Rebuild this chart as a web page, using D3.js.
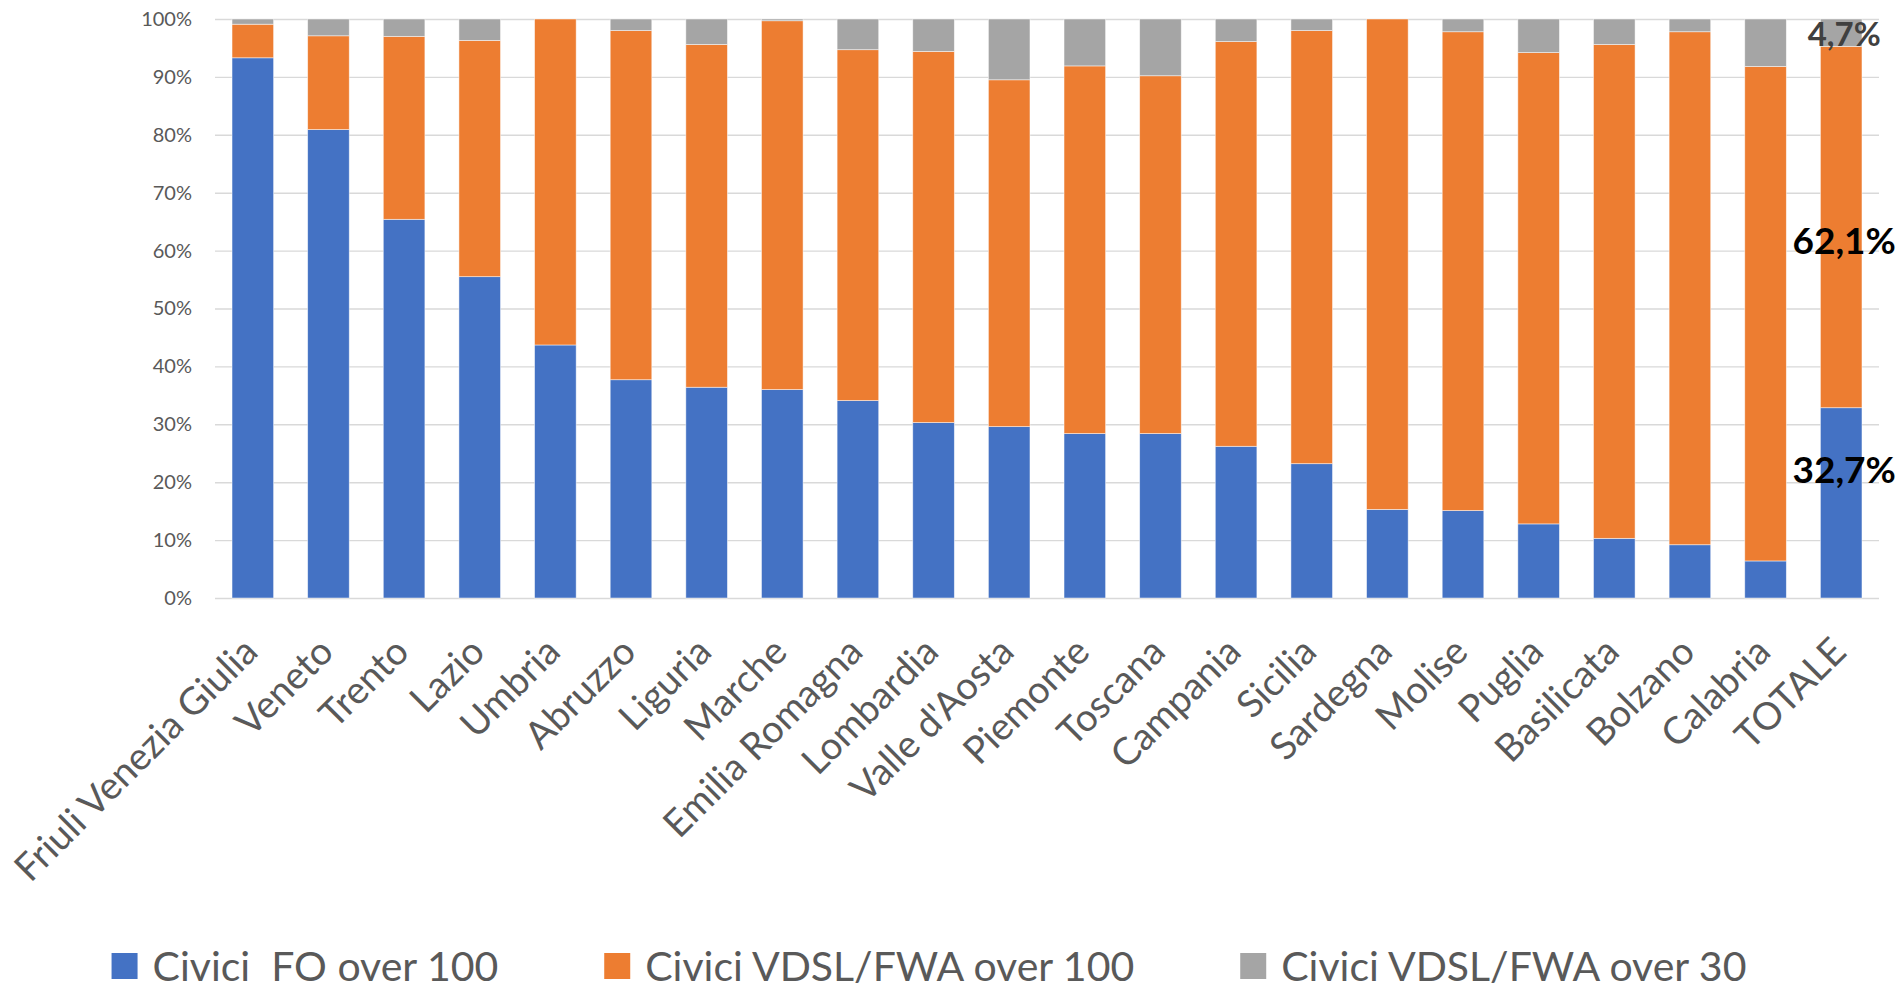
<!DOCTYPE html>
<html>
<head>
<meta charset="utf-8">
<script src="https://d3js.org/d3.v7.min.js"></script>
<style>
    body { margin: 0; background: #ffffff; }
    text { font-family: Lato, "Open Sans", sans-serif; }
</style>
</head>
<body>
<div class="chart"></div>
<script>
// categories (regions, ordered by FO share)
var regions = ["Friuli Venezia Giulia", "Veneto", "Trento", "Lazio", "Umbria", "Abruzzo",
    "Liguria", "Marche", "Emilia Romagna", "Lombardia", "Valle d'Aosta", "Piemonte",
    "Toscana", "Campania", "Sicilia", "Sardegna", "Molise", "Puglia", "Basilicata",
    "Bolzano", "Calabria", "TOTALE"];

// series values (% of civic numbers)
var foOver100   = [93.3, 80.9, 65.4, 55.5, 43.7, 37.7, 36.4, 36.0, 34.1, 30.3, 29.6, 28.4,
    28.4, 26.2, 23.2, 15.3, 15.1, 12.8, 10.3, 9.2, 6.4, 32.7];
var vdslOver100 = [5.8, 16.2, 31.6, 40.8, 56.3, 60.3, 59.2, 63.7, 60.6, 64.1, 59.9, 63.5,
    61.8, 69.9, 74.8, 84.7, 82.7, 81.4, 85.3, 88.6, 85.4, 62.1];
var vdslOver30  = [0.9, 2.9, 3.0, 3.7, 0.0, 2.0, 4.4, 0.3, 5.3, 5.6, 10.5, 8.1,
    9.8, 3.9, 2.0, 0.0, 2.2, 5.8, 4.4, 2.2, 8.2, 4.7];

var seriesNames = ["Civici  FO over 100", "Civici VDSL/FWA over 100", "Civici VDSL/FWA over 30"];
var seriesColors = ["#4472C4", "#ED7D31", "#A5A5A5"];

// y axis ticks (share of the 100% stack)
var yTicks = [0, 0.1, 0.2, 0.3, 0.4, 0.5, 0.6, 0.7, 0.8, 0.9, 1];

// build rows for the stack
var data = regions.map(function (r, i) {
    return { region: r, fo: foOver100[i], v100: vdslOver100[i], v30: vdslOver30[i] };
});
var keys = ["fo", "v100", "v30"];

// set the dimensions and margins of the graph
var margin = { top: 19, right: 24, bottom: 393, left: 215 },
    width = 1903 - margin.left - margin.right,
    height = 991 - margin.top - margin.bottom;

var svg = d3
    .select(".chart")
    .append("svg")
    .attr("width", 1903)
    .attr("height", 991)
    .append("g")
    .attr("transform", "translate(" + margin.left + "," + margin.top + ")");

var color = d3.scaleOrdinal().domain(keys).range(seriesColors);

// 100% stacked, like the spreadsheet chart
var stackedData = d3.stack().keys(keys).offset(d3.stackOffsetExpand)(data);

//////////
// AXIS //
//////////
var x = d3.scaleBand()
    .domain(regions)
    .range([0, width])
    .paddingInner(0.45)
    .paddingOuter(0.225);

var y = d3.scaleLinear().domain([0, 1]).range([height, 0]);

var yAxis = svg.append("g")
    .call(d3.axisLeft(y)
        .tickValues(yTicks)
        .tickSize(-width)
        .tickPadding(23)
        .tickFormat(d3.format(".0%")));

yAxis.select(".domain").remove();
yAxis.selectAll(".tick line")
    .attr("stroke", "#D9D9D9")
    .attr("stroke-width", 1.4);
yAxis.selectAll(".tick text")
    .attr("fill", "#595959")
    .style("font-size", "20px");

//////////
// BARS //
//////////
svg.append("g")
    .selectAll("g")
    .data(stackedData)
    .enter()
    .append("g")
    .attr("fill", function (d) { return color(d.key); })
    .selectAll("rect")
    .data(function (d) { return d; })
    .enter()
    .append("rect")
    .attr("x", function (d) { return x(d.data.region); })
    .attr("y", function (d) { return y(d[1]); })
    .attr("width", x.bandwidth())
    .attr("height", function (d) { return y(d[0]) - y(d[1]); })
    .attr("stroke", "#ffffff")
    .attr("stroke-width", 0.8)
    .attr("stroke-opacity", 0.6);

// category labels, rotated
svg.append("g")
    .selectAll("text")
    .data(regions)
    .enter()
    .append("text")
    .attr("transform", function (d) {
        return "translate(" + (x(d) + x.bandwidth() / 2 + 7) + "," + (height + 56) + ") rotate(-45)";
    })
    .attr("text-anchor", "end")
    .attr("fill", "#595959")
    .style("font-size", "38px")
    .text(function (d) { return d; });

//////////
// TOTAL LABELS //
//////////
var it = d3.formatLocale({ decimal: ",", thousands: ".", grouping: [3], currency: ["€", ""] });
var fmt = it.format(".1f");
var last = regions.length - 1;
var labelShift = { fo: -33, v100: 14, v30: 1 };
var labelSize = { fo: "37px", v100: "37px", v30: "33px" };
var labelFill = { fo: "#000000", v100: "#000000", v30: "#404040" };

svg.append("g")
    .selectAll("text")
    .data(stackedData)
    .enter()
    .append("text")
    .attr("x", x(regions[last]) + x.bandwidth() / 2 + 3)
    .attr("y", function (d) {
        var p = d[last];
        return y((p[0] + p[1]) / 2) + labelShift[d.key];
    })
    .attr("dy", "0.36em")
    .attr("text-anchor", "middle")
    .attr("fill", function (d) { return labelFill[d.key]; })
    .style("font-size", function (d) { return labelSize[d.key]; })
    .style("font-weight", "bold")
    .text(function (d) { return fmt(d[last].data[d.key]) + "%"; });

//////////
// LEGEND //
//////////
var size = 26;
var legend = d3.select("svg").append("g")
    .attr("transform", "translate(0," + 966 + ")");

var items = legend.selectAll("g")
    .data(seriesNames)
    .enter()
    .append("g");

items.append("rect")
    .attr("x", 0)
    .attr("y", -size / 2)
    .attr("width", size)
    .attr("height", size)
    .attr("fill", function (d, i) { return seriesColors[i]; });

items.append("text")
    .attr("x", size + 15)
    .attr("dy", "0.36em")
    .attr("fill", "#595959")
    .style("font-size", "41px")
    .style("white-space", "pre")
    .text(function (d) { return d; });

// lay items out side by side using measured text widths
var offsets = [], pos = 0;
items.each(function () {
    offsets.push(pos);
    pos += size + 15 + d3.select(this).select("text").node().getComputedTextLength() + 106;
});
var totalWidth = pos - 106;
var startX = 929 - totalWidth / 2;
items.attr("transform", function (d, i) { return "translate(" + (startX + offsets[i]) + ",0)"; });
</script>
</body>
</html>
